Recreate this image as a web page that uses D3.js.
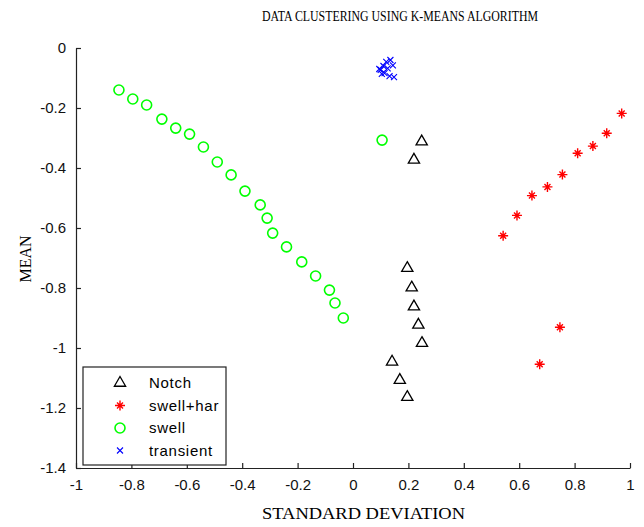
<!DOCTYPE html>
<html>
<head>
<meta charset="utf-8">
<script src="https://cdn.jsdelivr.net/npm/d3@7"></script>
<style>
  body { margin: 0; background: #fff; }
  svg { display: block; }
</style>
</head>
<body>
<svg id="chart" width="644" height="527"></svg>
<script>
// data
const notchX = [0.248, 0.22, 0.196, 0.212, 0.22, 0.236, 0.249, 0.141, 0.169, 0.196];
const notchY = [-0.312, -0.373, -0.734, -0.799, -0.862, -0.923, -0.984, -1.046, -1.107, -1.164];

const swellHarX = [0.97, 0.916, 0.866, 0.811, 0.756, 0.702, 0.646, 0.592, 0.542, 0.747, 0.674];
const swellHarY = [-0.218, -0.284, -0.327, -0.351, -0.422, -0.463, -0.492, -0.558, -0.626, -0.931, -1.054];

const swellX = [-0.845, -0.795, -0.745, -0.69, -0.64, -0.59, -0.54, -0.49, -0.44, -0.39,
                -0.335, -0.31, -0.29, -0.24, -0.185, -0.135, -0.085, -0.065, -0.035, 0.105];
const swellY = [-0.14, -0.17, -0.19, -0.237, -0.267, -0.287, -0.33, -0.38, -0.423, -0.477,
                -0.523, -0.567, -0.617, -0.663, -0.713, -0.76, -0.807, -0.85, -0.9, -0.307];

const transientX = [0.1, 0.11, 0.12, 0.135, 0.144, 0.114, 0.132, 0.148, 0.104, 0.095, 0.125];
const transientY = [-0.073, -0.06, -0.046, -0.04, -0.058, -0.084, -0.094, -0.097, -0.086, -0.07, -0.068];

const xTicks = [-1, -0.8, -0.6, -0.4, -0.2, 0, 0.2, 0.4, 0.6, 0.8, 1];
const yTicks = [0, -0.2, -0.4, -0.6, -0.8, -1, -1.2, -1.4];
const legendLabels = ["Notch", "swell+har", "swell", "transient"];

const svg = d3.select("#chart");
const x = d3.scaleLinear().domain([-1, 1]).range([76, 630]);
const y = d3.scaleLinear().domain([-1.4, 0]).range([468, 48]);

const fmt = d => (d === 0 ? "0" : String(d));

// axes, ticks pointing inwards like matlab
const xAxis = svg.append("g")
  .attr("transform", `translate(0,${y(-1.4)})`)
  .call(d3.axisBottom(x).tickValues(xTicks).tickFormat(fmt).tickSizeInner(-5).tickSizeOuter(0).tickPadding(11));
const yAxis = svg.append("g")
  .attr("transform", `translate(${x(-1)},0)`)
  .call(d3.axisLeft(y).tickValues(yTicks).tickFormat(fmt).tickSizeInner(-5).tickSizeOuter(0).tickPadding(10));

[xAxis, yAxis].forEach(a => {
  a.selectAll("path, line").attr("stroke", "#222").attr("stroke-width", 1.2);
  a.selectAll("text").attr("font-family", "Liberation Sans, Arial, sans-serif")
    .attr("font-size", 15).attr("fill", "#111");
});

// marker drawers
function triangle(g) {
  g.append("path")
    .attr("d", d3.symbol(d3.symbolTriangle).size(55)())
    .attr("fill", "none").attr("stroke", "#000").attr("stroke-width", 1.3);
}
function star(g) {
  g.append("path")
    .attr("d", "M-5,0H5M0,-5V5M-3,-3L3,3M-3,3L3,-3")
    .attr("stroke", "#ff0000").attr("stroke-width", 1.4);
}
function circle(g) {
  g.append("circle").attr("r", 5)
    .attr("fill", "none").attr("stroke", "#00ff00").attr("stroke-width", 1.6);
}
function cross(g) {
  g.append("path")
    .attr("d", "M-3,-3L3,3M-3,3L3,-3")
    .attr("stroke", "#0000ff").attr("stroke-width", 1.1);
}

const series = [
  { xs: notchX, ys: notchY, draw: triangle },
  { xs: swellHarX, ys: swellHarY, draw: star },
  { xs: swellX, ys: swellY, draw: circle },
  { xs: transientX, ys: transientY, draw: cross }
];

series.forEach(s => {
  s.xs.forEach((v, i) => {
    const g = svg.append("g").attr("transform", `translate(${x(v)},${y(s.ys[i])})`);
    s.draw(g);
  });
});

// title and axis labels
svg.append("text")
  .attr("x", 262).attr("y", 21)
  .attr("textLength", 276).attr("lengthAdjust", "spacingAndGlyphs")
  .attr("font-family", "Liberation Serif, Times New Roman, serif")
  .attr("font-size", 15)
  .text("DATA CLUSTERING USING K-MEANS ALGORITHM");

svg.append("text")
  .attr("x", 262).attr("y", 519)
  .attr("textLength", 203).attr("lengthAdjust", "spacingAndGlyphs")
  .attr("font-family", "Liberation Serif, Times New Roman, serif")
  .attr("font-size", 16)
  .text("STANDARD DEVIATION");

svg.append("text")
  .attr("transform", "translate(31,259) rotate(-90)")
  .attr("text-anchor", "middle")
  .attr("font-family", "Liberation Serif, Times New Roman, serif")
  .attr("font-size", 16)
  .text("MEAN");

// legend
const legend = svg.append("g");
legend.append("rect")
  .attr("x", 83).attr("y", 367).attr("width", 143).attr("height", 98)
  .attr("fill", "#fff").attr("stroke", "#222").attr("stroke-width", 1.2);

legendLabels.forEach((label, i) => {
  const ly = 383 + i * 22.5;
  const g = legend.append("g").attr("transform", `translate(120,${ly})`);
  series[i].draw(g);
  legend.append("text")
    .attr("x", 149).attr("y", ly + 5)
    .attr("font-family", "Liberation Sans, Arial, sans-serif")
    .attr("font-size", 15)
    .attr("letter-spacing", 0.7)
    .text(label);
});
</script>
</body>
</html>
